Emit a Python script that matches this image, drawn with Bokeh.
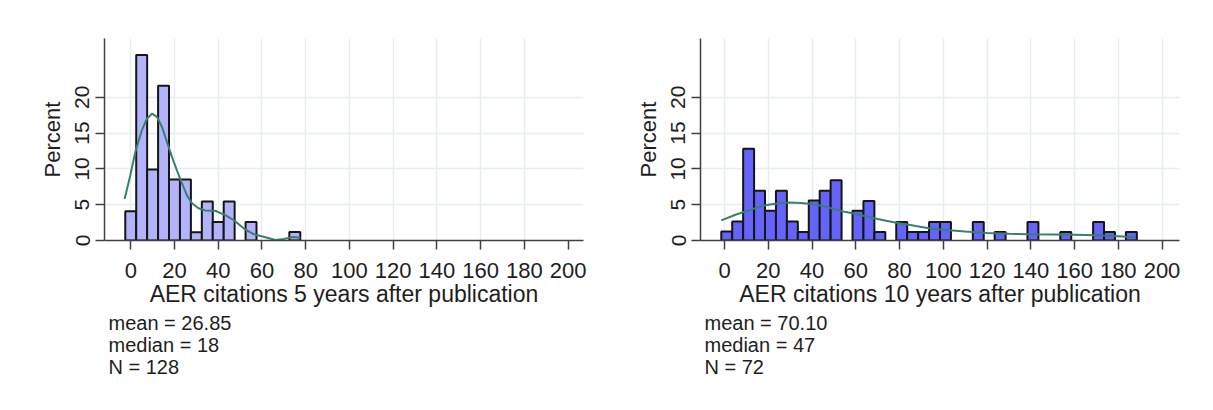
from bokeh.plotting import figure
from bokeh.layouts import row
from bokeh.models import ColumnDataSource, FixedTicker, Title, Range1d
from bokeh.embed import file_html
from bokeh.resources import INLINE

# ---- data ----
x_ticks = [0, 20, 40, 60, 80, 100, 120, 140, 160, 180, 200]
y_ticks = [0, 5, 10, 15, 20]

# 5 years after publication
left_bin_centers = [0, 5, 10, 15, 20, 25, 30, 35, 40, 45, 50, 55, 60, 65, 70, 75]
left_percent = [4.1, 25.9, 9.9, 21.6, 8.5, 8.5, 1.15, 5.45, 2.6, 5.45, 0, 2.6, 0, 0, 0, 1.2]
left_kde_x = [-2.8, -0.2, 2.1, 5.1, 7.4, 9.7, 12.0, 14.3, 16.5, 18.8, 21.1, 23.4, 25.7,
              28.0, 31.0, 34.0, 38.6, 43.2, 47.0, 51.6, 56.1, 60.7, 66.1, 69.9, 74.4, 77.5]
left_kde_y = [5.8, 9.1, 12.4, 15.4, 17.0, 17.7, 17.25, 15.85, 13.8, 11.7, 9.8, 8.0, 6.3,
              5.2, 4.5, 4.2, 4.15, 3.55, 2.86, 1.7, 0.9, 0.53, 0.07, 0.2, 0.5, 0.4]
left_stats = ["mean = 26.85", "median = 18", "N = 128"]
left_xlabel = "AER citations 5 years after publication"

# 10 years after publication
right_bin_centers = [1, 6, 11, 16, 21, 26, 31, 36, 41, 46, 51, 56, 61, 66, 71, 76, 81, 86, 91,
                     96, 101, 106, 111, 116, 121, 126, 131, 136, 141, 146, 151, 156, 161, 166,
                     171, 176, 181, 186]
right_percent = [1.25, 2.65, 12.8, 6.95, 4.15, 6.95, 2.65, 1.2, 5.6, 6.95, 8.4, 0, 4.15, 5.5,
                 1.2, 0, 2.6, 1.2, 1.2, 2.6, 2.6, 0, 0, 2.6, 0, 1.2, 0, 0, 2.6, 0, 0, 1.2,
                 0, 0, 2.6, 1.2, 0, 1.2]
right_kde_x = [-1.5, 5, 10, 15, 20, 25, 30, 35, 40, 45, 50, 55, 60, 65, 70, 75, 80, 85, 90,
               95, 100, 110, 120, 130, 140, 150, 160, 170, 180, 187.5]
right_kde_y = [2.8, 3.6, 4.1, 4.6, 5.0, 5.2, 5.3, 5.25, 5.1, 4.8, 4.4, 4.0, 3.7, 3.35, 3.0,
               2.7, 2.4, 2.15, 1.9, 1.65, 1.5, 1.25, 1.05, 0.93, 0.87, 0.85, 0.82, 0.75,
               0.6, 0.45]
right_stats = ["mean = 70.10", "median = 47", "N = 72"]
right_xlabel = "AER citations 10 years after publication"

FONT = "Liberation Sans"
TXT = "#1e1e1e"
AXIS = "#404040"
GRID = "#e5eef0"
FRAME_W, FRAME_H = 479, 202
Y_MAX = 28.2


def panel(centers, pct, kx, ky, stats, xlabel, fill, xr, xgrid_ticks, right_border):
    p = figure(frame_width=FRAME_W, frame_height=FRAME_H,
               min_border_left=104, min_border_right=right_border,
               min_border_top=38, min_border_bottom=145,
               x_range=Range1d(*xr), y_range=Range1d(0, Y_MAX),
               output_backend="svg", toolbar_location=None)
    p.outline_line_color = None
    p.background_fill_color = "white"
    p.border_fill_color = "white"

    src = ColumnDataSource(dict(
        x=[c for c, v in zip(centers, pct) if v > 0],
        top=[v for v in pct if v > 0]))
    p.vbar(x="x", top="top", width=5, source=src, fill_color=fill,
           line_color="#151515", line_width=2)
    p.line(kx, ky, line_color="#3a7e72", line_width=2)

    for ax in (p.xaxis[0], p.yaxis[0]):
        ax.axis_line_color = AXIS
        ax.axis_line_width = 1.5
        ax.major_tick_line_color = AXIS
        ax.major_tick_line_width = 1.5
        ax.major_tick_out = 9
        ax.major_tick_in = 0
        ax.minor_tick_line_color = None
        ax.major_label_text_font = FONT
        ax.major_label_text_color = TXT
        ax.axis_label_text_font = FONT
        ax.axis_label_text_font_style = "normal"
        ax.axis_label_text_color = TXT

    p.xaxis.ticker = FixedTicker(ticks=x_ticks)
    p.xaxis.axis_label = xlabel
    p.xaxis.axis_label_text_font_size = "23px"
    p.xaxis.major_label_text_font_size = "22px"
    p.xaxis.major_label_standoff = 13
    p.xaxis.axis_label_standoff = 0

    p.yaxis.ticker = FixedTicker(ticks=y_ticks)
    p.yaxis.axis_label = "Percent"
    p.yaxis.axis_label_text_font_size = "22px"
    p.yaxis.major_label_text_font_size = "21px"
    p.yaxis.major_label_orientation = "vertical"
    p.yaxis.major_label_standoff = 6
    p.yaxis.axis_label_standoff = 8

    p.xgrid.ticker = FixedTicker(ticks=xgrid_ticks)
    p.ygrid.ticker = FixedTicker(ticks=[5, 10, 15, 20])
    p.grid.grid_line_color = GRID
    p.grid.grid_line_width = 1.5

    p.add_layout(Title(text="\n".join(stats), align="left", offset=4, standoff=0,
                       text_font=FONT, text_font_size="20px",
                       text_font_style="normal", text_color=TXT,
                       text_line_height=1.0), "below")
    return p


p1 = panel(left_bin_centers, left_percent, left_kde_x, left_kde_y, left_stats,
           left_xlabel, "#b3b3fb", (-12.0, 207.0), x_ticks[:-1], 13)
p2 = panel(right_bin_centers, right_percent, right_kde_x, right_kde_y, right_stats,
           right_xlabel, "#6464fa", (-11.0, 208.0), x_ticks, 21)

layout = row(p1, p2)
open("out.html", "w").write(file_html(layout, INLINE))
